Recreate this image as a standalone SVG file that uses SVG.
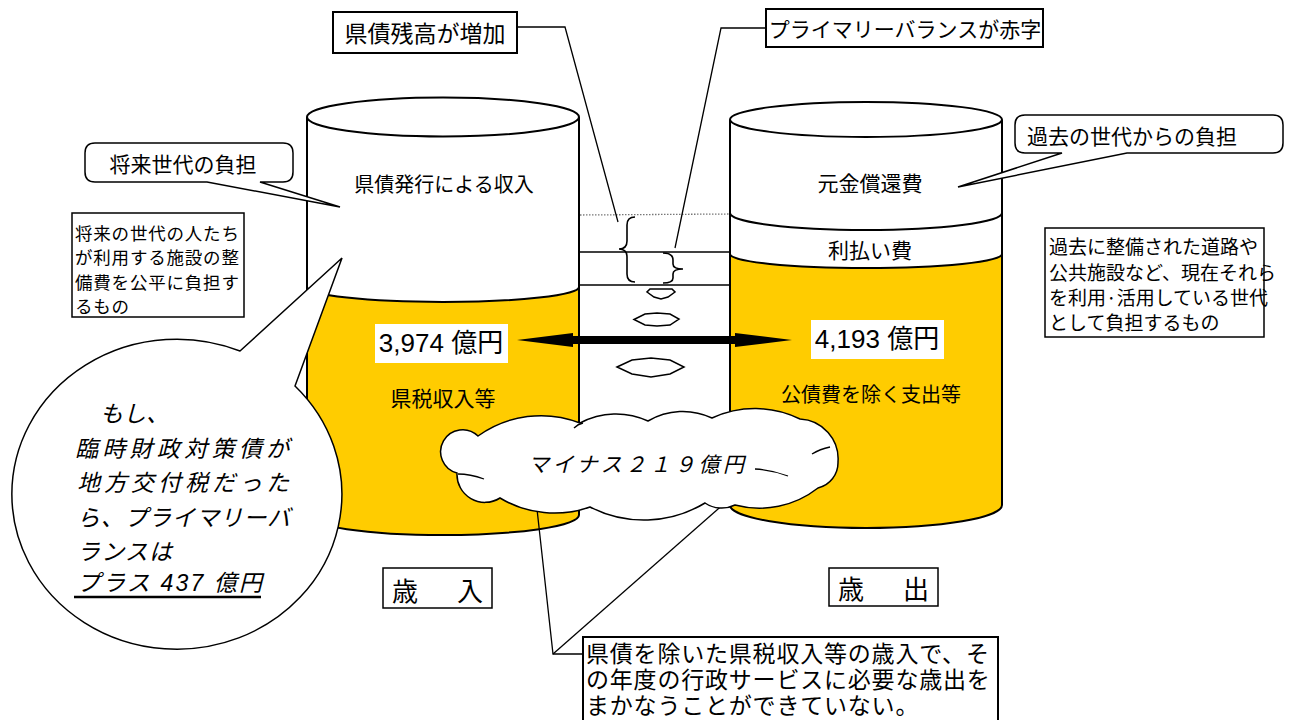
<svg xmlns="http://www.w3.org/2000/svg" width="1290" height="720" viewBox="0 0 1290 720">
<style>
.t{font-family:"Noto Sans CJK JP","Noto Sans CJK SC",sans-serif;fill:#000}
.n{font-family:"Liberation Sans","Noto Sans CJK JP",sans-serif;fill:#000}
.c{text-anchor:middle;dominant-baseline:central}
.l{dominant-baseline:central}
.it{font-style:italic}
.ln{fill:none;stroke:#000;stroke-width:1.3}
.ol{fill:none;stroke:#000;stroke-width:2}
.box{fill:#fff;stroke:#000;stroke-width:2}
.y{fill:#FFCC00}
.w{fill:#fff}
.sh{fill:#fff;stroke:#000;stroke-width:1.5}
</style>
<rect width="1290" height="720" fill="#fff"/>

<g id="revenue-cylinder">
  <path class="y" d="M307,287 V515 A136,20 0 0 0 579,515 V287 Z"/>
  <path class="w" d="M307,117 V287 A136,15 0 0 0 579,287 V117 Z"/>
  <ellipse class="sh" cx="443" cy="117" rx="136" ry="19.5" style="stroke-width:2"/>
  <path class="ol" d="M307,117 V515 A136,20 0 0 0 579,515 V117"/>
  <path class="ol" d="M307,287 A136,15 0 0 0 579,287"/>
  <text class="t c" x="444" y="183" font-size="20">県債発行による収入</text>
  <text class="t c" x="443" y="397" font-size="21">県税収入等</text>
</g>

<g id="expenditure-cylinder">
  <path class="y" d="M730,254 V505 A136,23 0 0 0 1002,505 V254 Z"/>
  <path class="w" d="M730,120 V254 A136,14 0 0 0 1002,254 V120 Z"/>
  <ellipse class="sh" cx="866" cy="119.5" rx="136" ry="17.5" style="stroke-width:2"/>
  <path class="ol" d="M730,120 V505 A136,23 0 0 0 1002,505 V120"/>
  <path class="ol" d="M730,213 A136,17 0 0 0 1002,213"/>
  <path class="ol" d="M730,254 A136,14 0 0 0 1002,254"/>
  <text class="t c" x="870" y="182" font-size="21">元金償還費</text>
  <text class="t c" x="870" y="249" font-size="21">利払い費</text>
  <text class="t c" x="871" y="393" font-size="20">公債費を除く支出等</text>
</g>

<g id="gap-column">
  <line x1="580" y1="215" x2="730" y2="214" stroke="#777" stroke-width="1.3" stroke-dasharray="1.5 1.5"/>
  <line class="ln" x1="580" y1="252" x2="730" y2="252"/>
  <line class="ln" x1="580" y1="285" x2="730" y2="285"/>
  <path class="ln" style="stroke-width:1.6" d="M635,217 Q627,217 627,225 V241 Q627,249 619,249 Q627,249 627,257 V274 Q627,282 635,282"/>
  <path class="ln" style="stroke-width:1.6" d="M663,253 Q673,253 673,260 V264 Q673,269 683,269 Q673,269 673,274 V278 Q673,283 663,283"/>
  <path class="sh" d="M650,289 L672,289 L675,292 L668,297 L661,299 L654,297 L647,292 Z"/>
  <path class="sh" d="M634,319.5 L645,314 L657,313 L670,314 L679,319 L670,325 L657,326 L645,325 Z"/>
  <path class="sh" d="M617,367 L632,360 L651,358 L670,360 L684,367 L670,374 L651,377 L632,374 Z"/>
</g>

<g id="connectors">
  <polyline class="ln" points="517,27 565,27 618,222"/>
  <polyline class="ln" points="766,28 721,28 675,248"/>
  <polyline class="ln" points="536,500 553,654 583,654"/>
  <line class="ln" x1="553" y1="654" x2="726" y2="502"/>
  <polygon fill="#000" points="517,340 573,333 573,336 735,336 735,333 792,340 735,347 735,344 573,344 573,347"/>
</g>

<g id="value-revenue">
  <rect x="375" y="324" width="133" height="39" fill="#fff"/>
  <text class="n c" x="441" y="343" font-size="26">3,974 億円</text>
</g>
<g id="value-expenditure">
  <rect x="811" y="320" width="133" height="39" fill="#fff"/>
  <text class="n c" x="877" y="339" font-size="26">4,193 億円</text>
</g>

<g id="deficit-cloud">
  <path class="sh" d="M457,473 A22,22 0 1 1 478,436 A108,108 0 0 1 580,423 A76,76 0 0 1 648,421 A68,68 0 0 1 712,418 A102,102 0 0 1 800,419 A40,40 0 0 1 838,462 A26,26 0 0 1 818,488 A95,95 0 0 1 735,505 A30,30 0 0 1 705,503 A118,118 0 0 1 590,507 A106,106 0 0 1 500,498 A28,28 0 0 1 457,473 Z"/>
  <path class="ln" d="M458,474 Q470,474 484,479"/>
  <path class="ln" d="M755,469 Q772,470 788,476"/>
  <path class="ln" d="M812,454 Q820,449 830,447"/>
  <path class="ln" d="M574,428 Q578,424 583,423"/>
  <text class="t l it" x="528" y="463" font-size="21" textLength="216" lengthAdjust="spacing">マイナス２１９億円</text>
</g>

<g id="future-burden-bubble">
  <path class="sh" d="M95,143 H283 Q293,143 293,153 V172 Q293,182 283,182 H260 L340,207 L207,182 H95 Q85,182 85,172 V153 Q85,143 95,143 Z"/>
  <text class="t c" x="183" y="163" font-size="21">将来世代の負担</text>
</g>

<g id="past-burden-bubble">
  <path class="sh" d="M1025,115 H1273 Q1283,115 1283,125 V143 Q1283,153 1273,153 H1127 L958,187 L1062,153 H1025 Q1015,153 1015,143 V125 Q1015,115 1025,115 Z"/>
  <text class="t c" x="1132" y="135" font-size="21">過去の世代からの負担</text>
</g>

<g id="future-note">
  <rect class="box" x="72" y="213" width="172" height="104" style="stroke-width:1.5"/>
  <text class="t l" x="75" y="232" font-size="17.5" letter-spacing="0.8">将来の世代の人たち</text>
  <text class="t l" x="75" y="256.5" font-size="17.5" letter-spacing="0.8">が利用する施設の整</text>
  <text class="t l" x="75" y="281" font-size="17.5" letter-spacing="0.8">備費を公平に負担す</text>
  <text class="t l" x="75" y="305" font-size="17.5" letter-spacing="0.8">るもの</text>
</g>

<g id="past-note">
  <rect class="box" x="1045" y="228" width="219" height="109" style="stroke-width:1.5"/>
  <text class="t l" x="1049" y="245" font-size="19">過去に整備された道路や</text>
  <text class="t l" x="1049" y="271" font-size="19">公共施設など、現在それら</text>
  <text class="t l" x="1049" y="296" font-size="19">を利用·活用している世代</text>
  <text class="t l" x="1049" y="321" font-size="19">として負担するもの</text>
</g>

<g id="if-bubble">
  <path class="sh" d="M240,351 L342,258 L295,386 A165,155 0 1 1 240,351 Z"/>
  <text class="t l it" x="100" y="412" font-size="23">もし、</text>
  <text class="t l it" x="75" y="447" font-size="23" textLength="214" lengthAdjust="spacing">臨時財政対策債が</text>
  <text class="t l it" x="77" y="481" font-size="23" textLength="212" lengthAdjust="spacing">地方交付税だった</text>
  <text class="t l it" x="77" y="516" font-size="23" textLength="213" lengthAdjust="spacing">ら、プライマリーバ</text>
  <text class="t l it" x="77" y="550" font-size="23" textLength="95" lengthAdjust="spacing">ランスは</text>
  <text class="n l it" x="77" y="583" font-size="23" textLength="185" lengthAdjust="spacing">プラス 437 億円</text>
  <line x1="74" y1="597" x2="261" y2="597" stroke="#000" stroke-width="2.5"/>
</g>

<g id="label-debt-increase">
  <rect class="box" x="333" y="12" width="184" height="41"/>
  <text class="t c" x="425" y="32" font-size="23">県債残高が増加</text>
</g>

<g id="label-primary-balance">
  <rect class="box" x="766" y="9" width="277" height="38"/>
  <text class="t c" x="905" y="28" font-size="21">プライマリーバランスが赤字</text>
</g>

<g id="label-revenue">
  <rect class="box" x="383" y="568" width="109" height="40" style="stroke-width:1.5"/>
  <text class="t c" x="405" y="589" font-size="26">歳</text>
  <text class="t c" x="470" y="589" font-size="26">入</text>
</g>

<g id="label-expenditure">
  <rect class="box" x="829" y="568" width="109" height="38" style="stroke-width:1.5"/>
  <text class="t c" x="851" y="587" font-size="26">歳</text>
  <text class="t c" x="916" y="587" font-size="26">出</text>
</g>

<g id="explanation">
  <rect class="box" x="583" y="637" width="415" height="100"/>
  <text class="t l" x="586" y="652" font-size="23" letter-spacing="0.8">県債を除いた県税収入等の歳入で、そ</text>
  <text class="t l" x="586" y="678" font-size="23" letter-spacing="0.8">の年度の行政サービスに必要な歳出を</text>
  <text class="t l" x="586" y="704" font-size="23" letter-spacing="0.8">まかなうことができていない。</text>
</g>
</svg>
